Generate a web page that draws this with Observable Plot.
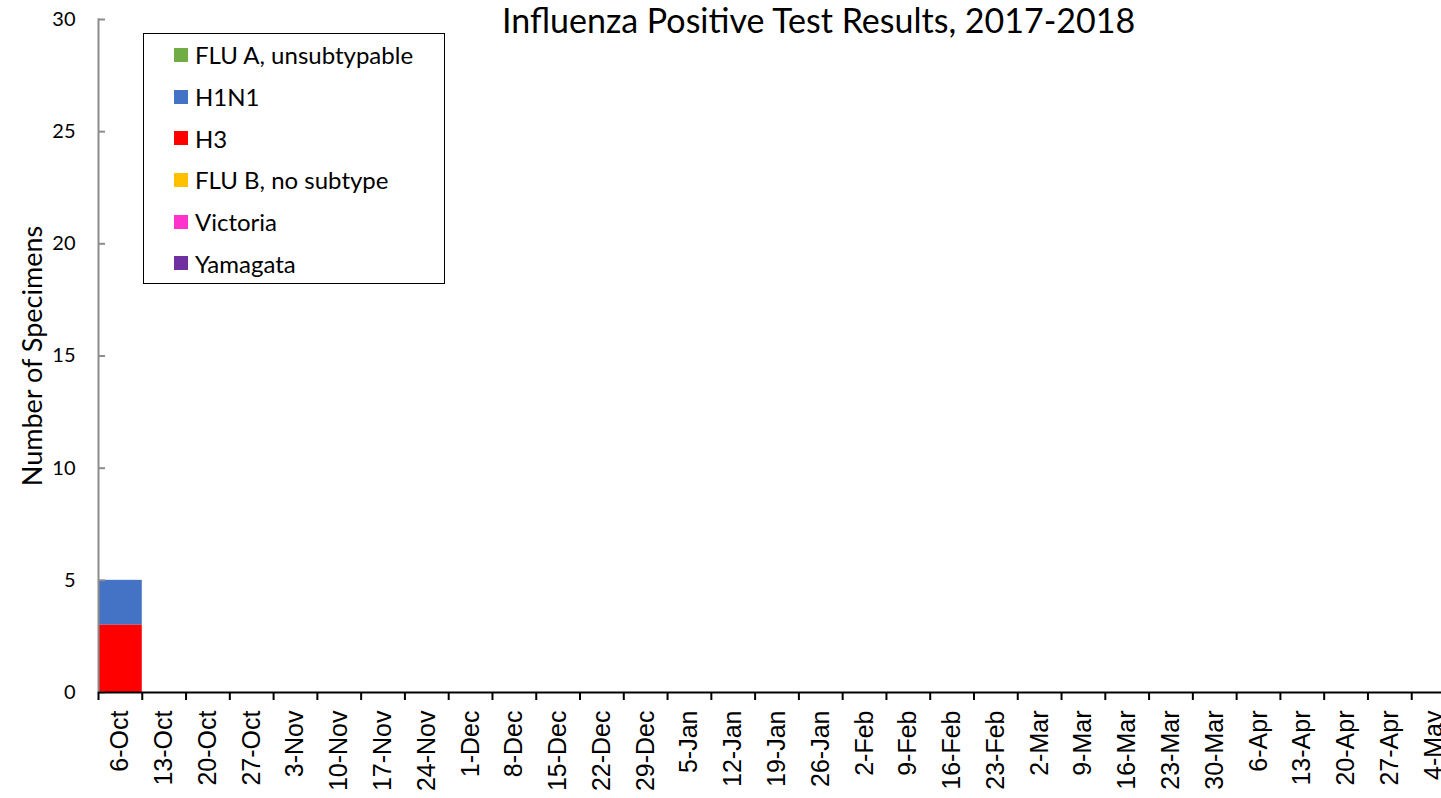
<!DOCTYPE html>
<html>
<head>
<meta charset="utf-8">
<script src="https://cdn.jsdelivr.net/npm/d3@7"></script>
<script src="https://cdn.jsdelivr.net/npm/@observablehq/plot@0.6"></script>
<style>
  html, body { margin: 0; padding: 0; background: #fff; }
  #wrap { position: relative; width: 1441px; height: 798px; overflow: hidden; }
  #title { position: absolute; left: 502px; top: -1px; font-family: Lato, sans-serif; font-size: 34px; color: #000; white-space: nowrap; }
  #ylabel { position: absolute; left: 31px; top: 356px; transform: translate(-50%, -50%) rotate(-90deg); font-family: Lato, sans-serif; font-size: 27px; white-space: nowrap; color: #000; }
  #legend { position: absolute; left: 143px; top: 33px; width: 302px; height: 251px; border: 1.5px solid #000; background: #fff; font-family: Lato, sans-serif; font-size: 24px; box-sizing: border-box; padding-top: 0px; }
  .item { height: 41.7px; display: flex; align-items: center; padding-left: 30px; }
  .sw { width: 14px; height: 14px; margin-right: 7px; flex: none; }
</style>
</head>
<body>
<div id="wrap">
  <div id="chart"></div>
  <div id="title"></div>
  <div id="ylabel"></div>
  <div id="legend"></div>
</div>
<script>
const titleText = "Influenza Positive Test Results, 2017-2018";
const yLabelText = "Number of Specimens";

const weeks = ["6-Oct","13-Oct","20-Oct","27-Oct","3-Nov","10-Nov","17-Nov","24-Nov","1-Dec","8-Dec","15-Dec","22-Dec","29-Dec","5-Jan","12-Jan","19-Jan","26-Jan","2-Feb","9-Feb","16-Feb","23-Feb","2-Mar","9-Mar","16-Mar","23-Mar","30-Mar","6-Apr","13-Apr","20-Apr","27-Apr","4-May"];

const seriesNames = ["FLU A, unsubtypable","H1N1","H3","FLU B, no subtype","Victoria","Yamagata"];
const seriesColors = ["#70AD47","#4472C4","#FF0000","#FFC000","#FF33CC","#7030A0"];

const fluAUnsub = [0,0,0,0,0,0,0,0,0,0,0,0,0,0,0,0,0,0,0,0,0,0,0,0,0,0,0,0,0,0,0];
const h1n1      = [2,0,0,0,0,0,0,0,0,0,0,0,0,0,0,0,0,0,0,0,0,0,0,0,0,0,0,0,0,0,0];
const h3        = [3,0,0,0,0,0,0,0,0,0,0,0,0,0,0,0,0,0,0,0,0,0,0,0,0,0,0,0,0,0,0];
const fluB      = [0,0,0,0,0,0,0,0,0,0,0,0,0,0,0,0,0,0,0,0,0,0,0,0,0,0,0,0,0,0,0];
const victoria  = [0,0,0,0,0,0,0,0,0,0,0,0,0,0,0,0,0,0,0,0,0,0,0,0,0,0,0,0,0,0,0];
const yamagata  = [0,0,0,0,0,0,0,0,0,0,0,0,0,0,0,0,0,0,0,0,0,0,0,0,0,0,0,0,0,0,0];

const yTicks = [0, 5, 10, 15, 20, 25, 30];

const seriesValues = [fluAUnsub, h1n1, h3, fluB, victoria, yamagata];
// stacking order: bottom first
const stackOrder = ["Yamagata","Victoria","FLU B, no subtype","H3","H1N1","FLU A, unsubtypable"];

const table = [];
seriesNames.forEach((s, i) => {
  weeks.forEach((w, j) => table.push({week: w, series: s, count: seriesValues[i][j]}));
});

const W = 1441, H = 798;
const xRange = [98, 1455];
const bw = (xRange[1] - xRange[0]) / weeks.length;

const chart = Plot.plot({
  width: W,
  height: H,
  marginTop: 19,
  marginBottom: 106,
  marginLeft: 98,
  marginRight: 0,
  style: {background: "white", overflow: "visible"},
  x: {domain: weeks, range: xRange, padding: 0, round: false},
  y: {domain: [0, 30]},
  color: {domain: seriesNames, range: seriesColors},
  marks: [
    Plot.barY(table, {x: "week", y: "count", fill: "series", order: stackOrder, inset: 0}),
    Plot.frame({anchor: "left", stroke: "#8c8c8c", strokeWidth: 2}),
    Plot.axisY({ticks: yTicks, tickSize: 7, dx: 7, stroke: "#8c8c8c", strokeWidth: 2, text: null, label: null}),
    Plot.axisY({ticks: yTicks, tickSize: 0, tickPadding: 23, fontSize: 20, fontFamily: "Lato, sans-serif", fill: "#000", label: null}),
    Plot.ruleY([0], {stroke: "#000", strokeWidth: 2}),
    Plot.axisX({tickSize: 8, dx: -bw / 2, stroke: "#000", strokeWidth: 2, text: null, label: null}),
    Plot.axisX({tickSize: 0, tickRotate: -90, tickPadding: 18, fontSize: 25, fontFamily: "Liberation Sans, Arial, sans-serif", fill: "#000", label: null})
  ]
});
document.getElementById("chart").appendChild(chart);

document.getElementById("title").textContent = titleText;
document.getElementById("ylabel").textContent = yLabelText;
const legend = document.getElementById("legend");
seriesNames.forEach((s, i) => {
  const it = document.createElement("div");
  it.className = "item";
  const sw = document.createElement("span");
  sw.className = "sw";
  sw.style.background = seriesColors[i];
  const t = document.createElement("span");
  t.textContent = s;
  it.appendChild(sw);
  it.appendChild(t);
  legend.appendChild(it);
});
</script>
</body>
</html>
